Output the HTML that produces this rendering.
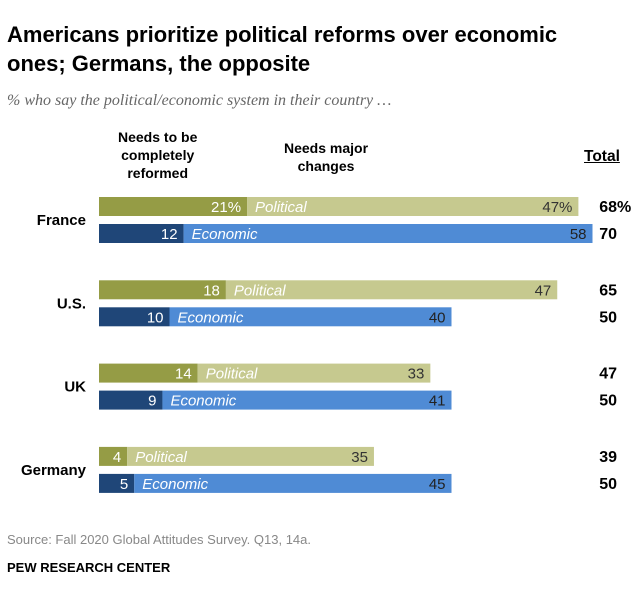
<!DOCTYPE html>
<html><head><meta charset="utf-8"><style>
body{margin:0;background:#fff;font-family:"Liberation Sans",Arial,sans-serif;}
#wrap{position:relative;width:640px;height:603px;overflow:hidden;}
.t{position:absolute;white-space:nowrap;}
</style></head><body>
<div id="wrap">
<div class="t" style="left:7px;top:20px;font-size:22px;font-weight:bold;line-height:29px;color:#000">Americans prioritize political reforms over economic<br>ones; Germans, the opposite</div>
<div class="t" style="left:7px;top:92px;font-size:16px;font-style:italic;color:#666;font-family:'Liberation Serif',serif">% who say the political/economic system in their country …</div>
<div class="t" style="left:118px;top:128px;font-size:14px;font-weight:bold;text-align:center;line-height:18px">Needs to be<br>completely<br>reformed</div>
<div class="t" style="left:284px;top:139px;font-size:14px;font-weight:bold;text-align:center;line-height:18px">Needs major<br>changes</div>
<div class="t" style="left:584px;top:148px;font-size:15.5px;font-weight:bold;text-decoration:underline">Total</div>
<svg id="svg" width="640" height="603" style="position:absolute;left:0;top:0"></svg>
<div class="t" style="left:7px;top:532px;font-size:13px;color:#888">Source: Fall 2020 Global Attitudes Survey. Q13, 14a.</div>
<div class="t" style="left:7px;top:560px;font-size:13px;font-weight:bold;color:#000">PEW RESEARCH CENTER</div>
</div>
<script>
const countries=["France","U.S.","UK","Germany"];
const polReform=[21,18,14,4];
const polMajor=[47,47,33,35];
const ecoReform=[12,10,9,5];
const ecoMajor=[58,40,41,45];
const svg=document.getElementById('svg');
const NS='http://www.w3.org/2000/svg';
const x0=99,k=7.05;
const xs=v=>x0+v*k;
function rect(x,y,w,h,fill,name){const r=document.createElementNS(NS,'rect');r.setAttribute('x',x);r.setAttribute('y',y);r.setAttribute('width',w);r.setAttribute('height',h);r.setAttribute('fill',fill);


svg.appendChild(r);}
function text(x,y,s,opt,name){const t=document.createElementNS(NS,'text');t.setAttribute('x',x);t.setAttribute('y',y);t.textContent=s;
t.setAttribute('font-size',opt.size||15);t.setAttribute('fill',opt.fill||'#000');if(opt.anchor)t.setAttribute('text-anchor',opt.anchor);if(opt.bold)t.setAttribute('font-weight','bold');if(opt.italic)t.setAttribute('font-style','italic');t.setAttribute('font-family','Liberation Sans, Arial, sans-serif');


svg.appendChild(t);}
countries.forEach((c,i)=>{
 const yp=197+i*83.3, ye=yp+27, h=19;
 text(86,yp+28,c,{anchor:'end',bold:true,size:15},'country-label');
 const a=polReform[i],b=polMajor[i];
 rect(xs(0),yp,xs(a)-xs(0),h,'#959c45','bar-political-reform');
 rect(xs(a),yp,xs(a+b)-xs(a),h,'#c6c98f','bar-political-major');
 text(xs(a)-6,yp+15,a+(i==0?'%':''),{anchor:'end',fill:'#fff'},'value-political-reform');
 text(xs(a)+8,yp+15,'Political',{italic:true,fill:'#fff'},'series-label-political');
 text(xs(a+b)-6,yp+15,b+(i==0?'%':''),{anchor:'end',fill:'#333'},'value-political-major');
 text(617,yp+15,a+b,{bold:true,anchor:'end',size:16},'total-political');
 if(i==0) text(617,yp+15,'%',{bold:true,size:16},'total-percent-sign');
 const e=ecoReform[i],f=ecoMajor[i];
 rect(xs(0),ye,xs(e)-xs(0),h,'#1f4678','bar-economic-reform');
 rect(xs(e),ye,xs(e+f)-xs(e),h,'#4f8bd5','bar-economic-major');
 text(xs(e)-6,ye+15,e,{anchor:'end',fill:'#fff'},'value-economic-reform');
 text(xs(e)+8,ye+15,'Economic',{italic:true,fill:'#fff'},'series-label-economic');
 text(xs(e+f)-6,ye+15,f,{anchor:'end',fill:'#222'},'value-economic-major');
 text(617,ye+15,e+f,{bold:true,anchor:'end',size:16},'total-economic');
});
</script>
</body></html>
